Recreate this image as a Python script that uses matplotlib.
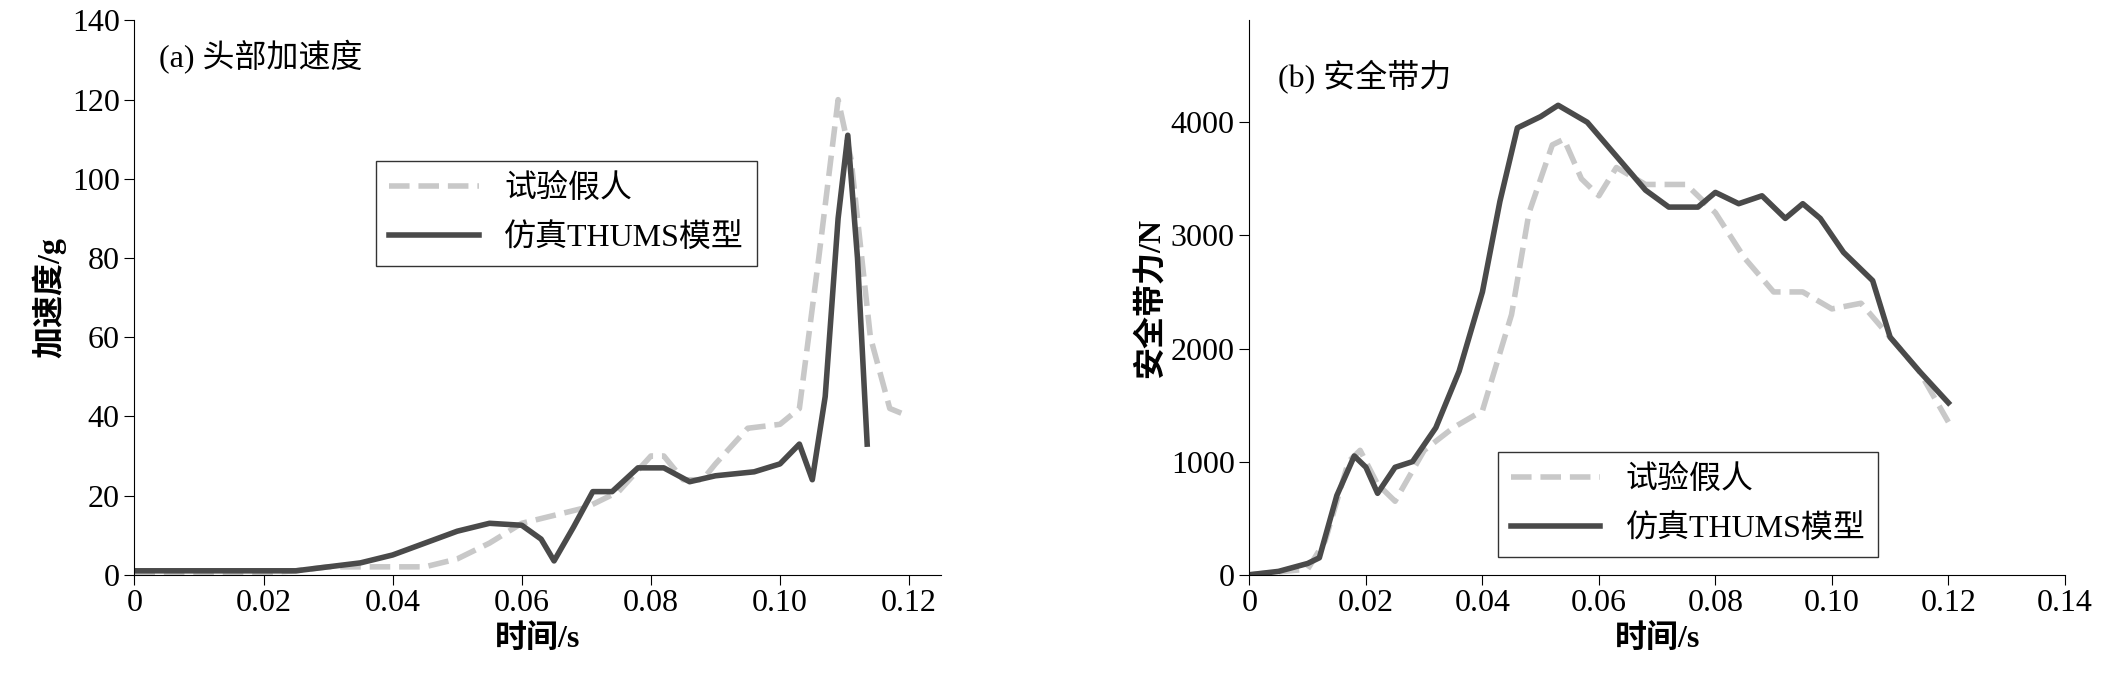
import matplotlib
matplotlib.use("Agg")
import matplotlib.pyplot as plt

plt.rcParams['font.family'] = ['Liberation Serif', 'Noto Sans CJK SC']

a_t_d = [0,0.01,0.02,0.025,0.03,0.035,0.04,0.045,0.05,0.055,0.06,0.065,0.07,0.075,0.08,0.082,0.085,0.088,0.09,0.095,0.1,0.103,0.106,0.109,0.111,0.114,0.117,0.12]
a_v_d = [0.5,0.5,0.5,1,2,2,2,2,4,8,13,15,17,21,30,30,24,24,28,37,38,42,80,120,105,60,42,40]
a_t_s = [0,0.01,0.02,0.025,0.03,0.035,0.04,0.045,0.05,0.055,0.06,0.063,0.065,0.068,0.071,0.074,0.078,0.082,0.086,0.09,0.096,0.1,0.103,0.105,0.107,0.109,0.1105,0.112,0.1135]
a_v_s = [1,1,1,1,2,3,5,8,11,13,12.5,9,3.5,12,21,21,27,27,23.5,25,26,28,33,24,45,90,111,80,33]

b_t_d = [0,0.01,0.013,0.017,0.019,0.022,0.025,0.03,0.035,0.04,0.045,0.048,0.052,0.054,0.057,0.06,0.063,0.068,0.075,0.08,0.085,0.09,0.095,0.1,0.105,0.11,0.115,0.12]
b_v_d = [0,50,300,1000,1100,800,650,1100,1300,1450,2300,3200,3800,3850,3500,3350,3600,3450,3450,3200,2800,2500,2500,2350,2400,2100,1800,1350]
b_t_s = [0,0.005,0.01,0.012,0.015,0.018,0.02,0.022,0.025,0.028,0.032,0.036,0.04,0.043,0.046,0.05,0.053,0.058,0.063,0.068,0.072,0.077,0.08,0.084,0.088,0.092,0.095,0.098,0.102,0.107,0.11,0.115,0.12]
b_v_s = [0,30,100,150,700,1050,950,720,950,1000,1300,1800,2500,3300,3950,4050,4150,4000,3700,3400,3250,3250,3380,3280,3350,3150,3280,3150,2850,2600,2100,1800,1520]

label_d = '试验假人'
label_s = '仿真THUMS模型'
light = '#c8c8c8'
dark = '#4a4a4a'
fs = 23

fig = plt.figure(figsize=(21.07, 6.81), dpi=100)
ax1 = fig.add_axes([0.0638, 0.156, 0.383, 0.814])
ax2 = fig.add_axes([0.593, 0.156, 0.387, 0.814])

ax1.plot(a_t_d, a_v_d, '--', color=light, lw=4, label=label_d)
ax1.plot(a_t_s, a_v_s, '-', color=dark, lw=4, label=label_s)
ax1.set_xlim(0, 0.125); ax1.set_ylim(0, 140)
ax1.set_xticks([0,0.02,0.04,0.06,0.08,0.10,0.12])
ax1.set_xticklabels(['0','0.02','0.04','0.06','0.08','0.10','0.12'])
ax1.set_yticks(range(0,141,20))
ax1.set_xlabel('时间/s', fontsize=fs, fontweight='bold')
ax1.set_ylabel('加速度/g', fontsize=fs, fontweight='bold')
ax1.text(0.03, 0.965, '(a) 头部加速度', transform=ax1.transAxes, fontsize=fs, va='top')
ax1.legend(loc='upper left', bbox_to_anchor=(0.28, 0.775), fontsize=fs, frameon=True,
           fancybox=False, edgecolor='black', handlelength=2.8, borderpad=0.4,
           labelspacing=0.6)

ax2.plot(b_t_d, b_v_d, '--', color=light, lw=4, label=label_d)
ax2.plot(b_t_s, b_v_s, '-', color=dark, lw=4, label=label_s)
ax2.set_xlim(0, 0.14); ax2.set_ylim(0, 4900)
ax2.set_xticks([0,0.02,0.04,0.06,0.08,0.10,0.12,0.14])
ax2.set_xticklabels(['0','0.02','0.04','0.06','0.08','0.10','0.12','0.14'])
ax2.set_yticks(range(0,4001,1000))
ax2.set_xlabel('时间/s', fontsize=fs, fontweight='bold')
ax2.set_ylabel('安全带力/N', fontsize=fs, fontweight='bold')
ax2.text(0.035, 0.93, '(b) 安全带力', transform=ax2.transAxes, fontsize=fs, va='top')
ax2.legend(loc='upper left', bbox_to_anchor=(0.285, 0.25), fontsize=fs, frameon=True,
           fancybox=False, edgecolor='black', handlelength=2.8, borderpad=0.4,
           labelspacing=0.6)

for ax in (ax1, ax2):
    ax.spines['top'].set_visible(False)
    ax.spines['right'].set_visible(False)
    ax.tick_params(labelsize=fs, direction='out', length=7)

fig.savefig('out.png', dpi=100)
